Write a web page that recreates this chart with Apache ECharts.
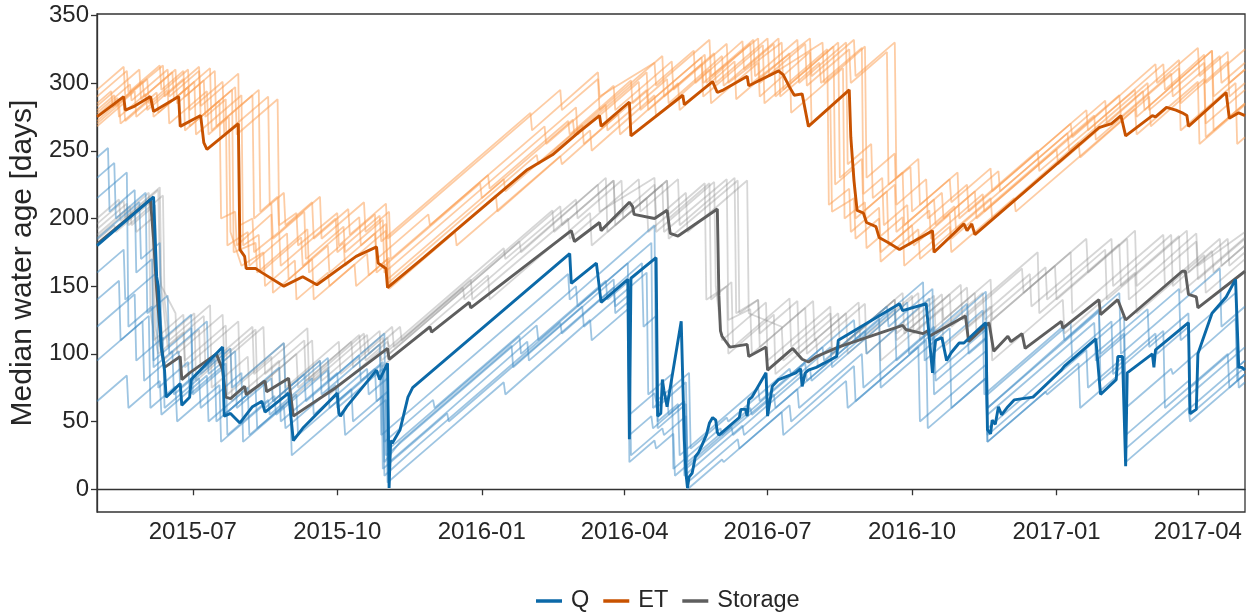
<!DOCTYPE html>
<html>
<head>
<meta charset="utf-8">
<script src="https://cdn.jsdelivr.net/npm/echarts@6/dist/echarts.min.js"></script>
<style>
html,body{margin:0;padding:0;background:#fff;}
#chart{width:1252px;height:615px;}
</style>
</head>
<body>
<div id="chart"></div>
<script>
// ---------- data ----------
const xTickLabels = ['2015-07','2015-10','2016-01','2016-04','2016-07','2016-10','2017-01','2017-04'];
const yTicks = [0,50,100,150,200,250,300,350];
const legendNames = ['Q','ET','Storage'];

const qMain = [['2015-05-01',180],['2015-06-06',216],['2015-06-08',157],['2015-06-09',150],['2015-06-11',105],['2015-06-13',88],['2015-06-14',68],['2015-06-23',78],['2015-06-24',62],['2015-06-29',68],['2015-06-30',81],['2015-07-20',105],['2015-07-21',54],['2015-07-25',56],['2015-07-31',49],['2015-08-08',61],['2015-08-14',65],['2015-08-16',57],['2015-08-31',71],['2015-09-03',36],['2015-09-09',45],['2015-10-01',71],['2015-10-02',56],['2015-10-03',54],['2015-10-07',61],['2015-10-26',88],['2015-10-28',81],['2015-11-02',93],['2015-11-03',1],['2015-11-04',36],['2015-11-05',34],['2015-11-10',44],['2015-11-15',68],['2015-11-18',75],['2016-02-26',174],['2016-02-27',152],['2016-03-14',167],['2016-03-17',138],['2016-04-03',155],['2016-04-04',37],['2016-04-05',156],['2016-04-21',171],['2016-04-22',54],['2016-04-24',56],['2016-04-25',81],['2016-04-26',73],['2016-04-28',61],['2016-05-07',124],['2016-05-08',125],['2016-05-09',36],['2016-05-10',12],['2016-05-11',1],['2016-05-12',9],['2016-05-14',12],['2016-05-16',24],['2016-05-18',27],['2016-05-20',32],['2016-05-23',40],['2016-05-25',49],['2016-05-27',53],['2016-05-29',51],['2016-05-30',42],['2016-05-31',40],['2016-06-13',53],['2016-06-14',59],['2016-06-17',59],['2016-06-18',54],['2016-06-19',66],['2016-06-21',68],['2016-06-30',86],['2016-07-01',54],['2016-07-04',76],['2016-07-08',81],['2016-07-19',86],['2016-07-22',89],['2016-07-23',76],['2016-07-25',86],['2016-07-27',88],['2016-08-01',90],['2016-08-14',98],['2016-08-15',110],['2016-09-23',137],['2016-09-25',132],['2016-10-10',137],['2016-10-14',86],['2016-10-15',100],['2016-10-16',110],['2016-10-20',112],['2016-10-23',95],['2016-10-26',101],['2016-10-31',108],['2016-11-03',108],['2016-11-14',120],['2016-11-17',123],['2016-11-18',44],['2016-11-20',41],['2016-11-21',51],['2016-11-23',48],['2016-11-25',61],['2016-11-27',55],['2016-12-01',61],['2016-12-05',66],['2016-12-17',68],['2017-01-04',88],['2017-01-06',91],['2017-01-26',111],['2017-01-29',70],['2017-02-08',81],['2017-02-09',98],['2017-02-12',98],['2017-02-14',17],['2017-02-15',86],['2017-03-03',100],['2017-03-04',90],['2017-03-05',103],['2017-03-26',123],['2017-03-27',56],['2017-03-31',59],['2017-04-01',100],['2017-04-04',110],['2017-04-07',120],['2017-04-10',130],['2017-04-19',142],['2017-04-25',155],['2017-04-27',90],['2017-04-29',90],['2017-05-01',88]];

const etMain = [['2015-05-01',275],['2015-05-18',290],['2015-05-19',280],['2015-05-25',283],['2015-06-04',290],['2015-06-06',279],['2015-06-22',290],['2015-06-23',268],['2015-07-06',276],['2015-07-08',256],['2015-07-10',251],['2015-07-30',270],['2015-07-31',177],['2015-08-03',172],['2015-08-04',163],['2015-08-10',163],['2015-08-14',160],['2015-08-28',150],['2015-09-09',157],['2015-09-18',151],['2015-10-13',172],['2015-10-26',179],['2015-10-27',167],['2015-11-01',163],['2015-11-02',149],['2015-11-25',171],['2016-01-30',236],['2016-02-15',247],['2016-03-03',264],['2016-03-16',276],['2016-03-17',268],['2016-04-04',286],['2016-04-05',261],['2016-05-08',291],['2016-05-09',284],['2016-05-27',301],['2016-05-30',293],['2016-06-03',295],['2016-06-18',305],['2016-06-19',298],['2016-07-08',309],['2016-07-11',306],['2016-07-15',297],['2016-07-18',291],['2016-07-23',292],['2016-07-25',280],['2016-07-27',268],['2016-08-22',295],['2016-08-23',260],['2016-08-25',228],['2016-08-27',206],['2016-08-31',204],['2016-09-02',197],['2016-09-08',194],['2016-09-10',186],['2016-09-16',182],['2016-09-23',177],['2016-10-14',191],['2016-10-15',175],['2016-11-03',196],['2016-11-05',191],['2016-11-08',196],['2016-11-10',188],['2017-01-28',267],['2017-02-05',270],['2017-02-11',276],['2017-02-14',261],['2017-03-03',276],['2017-03-05',275],['2017-03-12',282],['2017-03-18',280],['2017-03-22',278],['2017-03-25',276],['2017-03-26',268],['2017-04-19',293],['2017-04-21',274],['2017-04-27',278],['2017-05-01',276]];

const stMain = [['2015-05-01',181],['2015-06-04',214],['2015-06-06',185],['2015-06-08',147],['2015-06-11',105],['2015-06-13',90],['2015-06-23',98],['2015-06-24',81],['2015-06-29',86],['2015-07-16',100],['2015-07-20',88],['2015-07-22',68],['2015-07-25',67],['2015-08-03',76],['2015-08-04',70],['2015-08-16',80],['2015-08-17',72],['2015-08-31',82],['2015-09-03',54],['2015-09-30',75],['2015-11-02',104],['2015-11-03',96],['2015-11-29',120],['2015-11-30',116],['2015-12-24',138],['2015-12-25',134],['2016-02-27',191],['2016-02-29',183],['2016-03-16',197],['2016-03-17',191],['2016-04-04',212],['2016-04-06',209],['2016-04-07',203],['2016-04-20',200],['2016-04-28',206],['2016-04-30',189],['2016-05-05',187],['2016-05-30',207],['2016-05-31',143],['2016-06-01',117],['2016-06-02',113],['2016-06-07',105],['2016-06-18',107],['2016-06-19',98],['2016-06-30',105],['2016-07-01',88],['2016-07-17',104],['2016-07-23',96],['2016-07-27',94],['2016-08-01',98],['2016-08-15',105],['2016-09-25',121],['2016-09-27',118],['2016-10-08',115],['2016-10-11',117],['2016-10-12',113],['2016-11-04',128],['2016-11-06',109],['2016-11-19',123],['2016-11-22',102],['2016-12-01',113],['2016-12-03',109],['2016-12-10',115],['2016-12-12',104],['2017-01-04',124],['2017-01-05',119],['2017-01-28',140],['2017-01-29',129],['2017-02-09',140],['2017-02-14',125],['2017-03-22',161],['2017-03-24',161],['2017-03-26',144],['2017-03-31',142],['2017-04-01',134],['2017-05-01',161]];

const etMember1 = [['2015-05-01',290],['2015-05-20',309],['2015-05-21',293],['2015-06-10',313],['2015-06-11',295],['2015-06-25',309],['2015-06-26',290],['2015-07-15',309],['2015-07-16',268],['2015-08-08',291],['2015-08-09',200],['2015-08-20',211],['2015-08-21',185],['2015-09-10',205],['2015-09-11',170],['2015-10-05',194],['2015-10-06',175],['2015-10-30',199],['2015-10-31',160],['2016-03-01',282],['2016-03-02',262],['2016-04-10',301],['2016-04-11',280],['2016-05-20',319],['2016-05-21',300],['2016-06-22',332],['2016-06-23',305],['2016-07-20',332],['2016-07-21',300],['2016-08-20',330],['2016-08-21',240],['2016-09-05',255],['2016-09-06',215],['2016-09-25',234],['2016-09-26',195],['2016-10-20',219],['2016-10-21',200],['2016-11-10',220],['2016-11-11',200],['2017-02-10',291],['2017-02-11',275],['2017-03-15',307],['2017-03-16',290],['2017-04-15',320],['2017-04-16',300],['2017-05-01',315]];
const etMember2 = [['2015-05-01',270],['2015-05-25',294],['2015-05-26',275],['2015-06-15',295],['2015-06-16',270],['2015-07-10',294],['2015-07-11',262],['2015-07-24',275],['2015-07-25',190],['2015-08-01',165],['2015-08-15',175],['2015-08-16',150],['2015-09-04',169],['2015-09-05',140],['2015-09-25',160],['2015-09-26',150],['2015-10-20',174],['2015-10-21',158],['2015-11-03',171],['2015-11-04',150],['2016-01-10',217],['2016-01-11',205],['2016-03-10',265],['2016-03-11',250],['2016-04-20',291],['2016-04-21',275],['2016-05-25',310],['2016-05-26',285],['2016-06-25',315],['2016-06-26',290],['2016-07-28',323],['2016-07-29',270],['2016-08-10',282],['2016-08-11',205],['2016-08-25',215],['2016-08-26',185],['2016-09-10',200],['2016-09-11',168],['2016-10-05',192],['2016-10-06',170],['2016-11-20',215],['2016-11-21',200],['2017-01-15',256],['2017-01-16',245],['2017-03-01',290],['2017-03-02',268],['2017-04-05',303],['2017-04-06',260],['2017-05-01',285]];
const etMember3 = [['2015-05-01',280],['2015-05-12',291],['2015-05-13',283],['2015-06-02',303],['2015-06-03',285],['2015-06-28',310],['2015-06-29',280],['2015-07-20',301],['2015-07-21',262],['2015-08-18',290],['2015-08-19',210],['2015-08-28',219],['2015-08-29',195],['2015-09-15',212],['2015-09-16',185],['2015-10-08',207],['2015-10-09',188],['2015-11-01',211],['2015-11-02',185],['2016-02-20',295],['2016-02-21',280],['2016-03-15',303],['2016-03-16',280],['2016-04-25',320],['2016-04-26',290],['2016-05-28',322],['2016-05-29',300],['2016-07-01',333],['2016-07-02',305],['2016-08-05',330],['2016-08-06',300],['2016-09-01',327],['2016-09-02',230],['2016-09-20',248],['2016-09-21',210],['2016-10-10',229],['2016-10-11',200],['2016-11-05',225],['2016-11-06',205],['2017-01-20',280],['2017-01-21',265],['2017-03-10',314],['2017-03-11',295],['2017-04-05',321],['2017-04-06',300],['2017-05-01',325]];
const etMember4 = [['2015-05-01',283],['2015-05-28',310],['2015-05-29',288],['2015-06-20',310],['2015-06-21',285],['2015-07-08',302],['2015-07-09',275],['2015-07-22',288],['2015-07-23',180],['2015-08-05',190],['2015-08-06',165],['2015-08-30',189],['2015-08-31',155],['2015-09-25',180],['2015-09-26',160],['2015-10-25',189],['2015-10-26',170],['2015-11-28',203],['2015-11-29',195],['2016-02-10',268],['2016-02-11',255],['2016-03-25',298],['2016-03-26',280],['2016-05-01',316],['2016-05-02',295],['2016-06-05',329],['2016-06-06',300],['2016-07-10',330],['2016-07-11',295],['2016-08-12',327],['2016-08-13',225],['2016-08-25',237],['2016-08-26',200],['2016-09-15',220],['2016-09-16',180],['2016-10-12',206],['2016-10-13',185],['2016-11-15',218],['2016-11-16',205],['2017-01-01',251],['2017-01-02',240],['2017-02-25',294],['2017-02-26',280],['2017-04-10',324],['2017-04-11',265],['2017-05-01',285]];
const etMember5 = [['2015-05-01',272],['2015-05-15',286],['2015-05-16',270],['2015-06-08',293],['2015-06-09',278],['2015-07-02',301],['2015-07-03',262],['2015-08-01',291],['2015-08-02',180],['2015-08-12',188],['2015-08-13',160],['2015-09-08',186],['2015-09-09',165],['2015-10-15',201],['2015-10-16',180],['2015-11-01',196],['2015-11-02',155],['2016-01-15',229],['2016-01-16',220],['2016-03-05',269],['2016-03-06',255],['2016-04-15',295],['2016-04-16',280],['2016-05-20',314],['2016-05-21',290],['2016-06-28',328],['2016-06-29',285],['2016-08-08',325],['2016-08-09',210],['2016-08-22',222],['2016-08-23',190],['2016-09-10',208],['2016-09-11',175],['2016-10-01',195],['2016-10-02',180],['2016-10-25',203],['2016-10-26',185],['2017-01-25',276],['2017-01-26',258],['2017-03-20',311],['2017-03-21',265],['2017-04-25',300],['2017-04-26',255],['2017-05-01',260]];
const etMember6 = [['2015-05-01',295],['2015-05-18',312],['2015-05-19',290],['2015-06-12',313],['2015-06-13',290],['2015-07-05',312],['2015-07-06',283],['2015-07-30',307],['2015-07-31',195],['2015-08-08',200],['2015-08-09',175],['2015-08-25',190],['2015-08-26',165],['2015-09-30',200],['2015-10-01',175],['2015-10-28',202],['2015-10-29',183],['2016-02-01',278],['2016-02-02',265],['2016-03-15',308],['2016-03-16',290],['2016-04-20',315],['2016-04-21',298],['2016-05-25',332],['2016-05-26',305],['2016-06-25',333],['2016-06-26',300],['2016-07-25',329],['2016-07-26',298],['2016-08-22',325],['2016-08-23',300],['2016-09-15',323],['2016-09-16',225],['2016-09-30',238],['2016-10-01',205],['2016-10-25',229],['2016-10-26',212],['2016-11-20',237],['2016-11-21',220],['2017-01-10',270],['2017-01-11',260],['2017-03-05',314],['2017-03-06',300],['2017-04-01',326],['2017-04-02',305],['2017-04-20',323],['2017-04-21',300],['2017-05-01',310]];
const etMember7 = [['2015-05-01',285],['2015-05-10',294],['2015-05-11',282],['2015-05-30',301],['2015-05-31',290],['2015-06-18',308],['2015-06-19',288],['2015-07-12',311],['2015-07-13',265],['2015-08-12',295],['2015-08-13',205],['2015-08-24',216],['2015-08-25',190],['2015-09-20',216],['2015-09-21',185],['2015-10-18',212],['2015-10-19',190],['2015-11-03',205],['2015-11-04',170],['2016-01-05',232],['2016-01-06',222],['2016-02-25',272],['2016-02-26',262],['2016-04-05',302],['2016-04-06',285],['2016-05-15',324],['2016-05-16',300],['2016-06-15',331],['2016-06-16',310],['2016-07-05',329],['2016-07-06',290],['2016-08-15',330],['2016-08-16',230],['2016-08-30',244],['2016-08-31',205],['2016-09-20',225],['2016-09-21',190],['2016-10-15',214],['2016-10-16',195],['2016-11-25',235],['2016-11-26',220],['2017-02-01',287],['2017-02-02',270],['2017-03-20',317],['2017-03-21',285],['2017-04-20',316],['2017-04-21',290],['2017-05-01',300]];
const etMember8 = [['2015-05-01',268],['2015-05-18',285],['2015-05-19',272],['2015-06-05',289],['2015-06-06',275],['2015-06-28',297],['2015-06-29',268],['2015-07-18',287],['2015-07-19',200],['2015-07-28',205],['2015-07-29',180],['2015-08-20',203],['2015-08-21',145],['2015-09-15',170],['2015-09-16',140],['2015-10-12',166],['2015-10-13',150],['2015-11-02',170],['2015-11-03',148],['2015-12-15',190],['2015-12-16',180],['2016-02-20',246],['2016-02-21',240],['2016-03-28',277],['2016-03-29',262],['2016-05-05',300],['2016-05-06',280],['2016-06-10',316],['2016-06-11',288],['2016-07-15',322],['2016-07-16',278],['2016-08-18',311],['2016-08-19',200],['2016-09-01',212],['2016-09-02',178],['2016-09-25',201],['2016-09-26',165],['2016-10-25',194],['2016-10-26',175],['2016-12-05',215],['2016-12-06',205],['2017-02-20',281],['2017-02-21',262],['2017-04-01',301],['2017-04-02',255],['2017-05-01',284]];
const etMember9 = [['2015-05-01',278],['2015-05-22',299],['2015-05-23',287],['2015-06-15',310],['2015-06-16',290],['2015-07-05',309],['2015-07-06',275],['2015-07-28',297],['2015-07-29',262],['2015-08-24',288],['2015-08-25',195],['2015-09-05',204],['2015-09-06',180],['2015-10-01',204],['2015-10-02',180],['2015-10-25',203],['2015-10-26',160],['2015-12-31',226],['2016-01-01',215],['2016-02-28',273],['2016-02-29',262],['2016-04-15',308],['2016-04-16',285],['2016-05-22',321],['2016-05-23',300],['2016-06-20',329],['2016-06-21',300],['2016-07-28',333],['2016-07-29',305],['2016-08-25',332],['2016-08-26',305],['2016-09-20',330],['2016-09-21',230],['2016-10-05',244],['2016-10-06',210],['2016-10-30',234],['2016-10-31',200],['2016-12-20',250],['2016-12-21',235],['2017-02-20',295],['2017-02-21',275],['2017-04-10',324],['2017-04-11',290],['2017-05-01',310]];
const etMember10 = [['2015-05-01',276],['2015-05-14',289],['2015-05-15',275],['2015-06-01',292],['2015-06-02',280],['2015-06-25',303],['2015-06-26',265],['2015-07-26',295],['2015-07-27',175],['2015-08-10',182],['2015-08-11',160],['2015-09-12',192],['2015-09-13',160],['2015-10-05',182],['2015-10-06',165],['2015-11-01',191],['2015-11-02',152],['2016-02-05',247],['2016-02-06',240],['2016-03-20',284],['2016-03-21',265],['2016-04-28',303],['2016-04-29',285],['2016-06-02',320],['2016-06-03',298],['2016-07-08',333],['2016-07-09',290],['2016-08-03',315],['2016-08-04',300],['2016-08-30',326],['2016-08-31',218],['2016-09-12',230],['2016-09-13',195],['2016-09-28',210],['2016-09-29',180],['2016-10-28',209],['2016-10-29',192],['2017-01-08',263],['2017-01-09',250],['2017-02-28',300],['2017-03-01',280],['2017-04-05',315],['2017-04-06',270],['2017-05-01',295]];

const qMember1 = [['2015-05-01',215],['2015-05-20',234],['2015-05-21',120],['2015-06-05',135],['2015-06-06',90],['2015-06-18',102],['2015-06-19',70],['2015-07-15',96],['2015-07-16',50],['2015-08-10',75],['2015-08-11',45],['2015-09-05',70],['2015-09-06',40],['2015-10-10',74],['2015-10-11',50],['2015-10-30',69],['2015-10-31',20],['2015-11-10',35],['2016-01-20',106],['2016-01-21',90],['2016-03-25',155],['2016-03-26',130],['2016-04-03',138],['2016-04-04',40],['2016-04-18',54],['2016-04-19',45],['2016-05-08',64],['2016-05-09',10],['2016-06-15',47],['2016-06-16',40],['2016-07-20',74],['2016-07-21',60],['2016-08-30',100],['2016-08-31',75],['2016-10-15',120],['2016-10-16',80],['2016-11-17',112],['2016-11-18',40],['2017-01-20',103],['2017-01-21',75],['2017-02-13',98],['2017-02-14',30],['2017-03-26',70],['2017-03-27',55],['2017-05-01',90]];
const qMember2 = [['2015-05-01',230],['2015-05-12',241],['2015-05-13',200],['2015-06-01',219],['2015-06-02',130],['2015-06-15',143],['2015-06-16',100],['2015-07-10',124],['2015-07-11',85],['2015-07-28',102],['2015-07-29',60],['2015-08-20',82],['2015-08-21',65],['2015-09-20',95],['2015-09-21',70],['2015-10-28',107],['2015-10-29',40],['2015-11-15',57],['2016-02-25',159],['2016-02-26',140],['2016-04-20',195],['2016-04-21',60],['2016-05-10',79],['2016-05-11',20],['2016-06-20',60],['2016-06-21',55],['2016-08-10',105],['2016-08-11',90],['2016-09-28',138],['2016-09-29',100],['2016-11-05',137],['2016-11-06',100],['2016-11-17',111],['2016-11-18',55],['2017-01-25',123],['2017-01-26',95],['2017-03-20',148],['2017-03-21',110],['2017-04-25',145],['2017-04-26',80],['2017-05-01',85]];
const qMember3 = [['2015-05-01',185],['2015-05-28',212],['2015-05-29',170],['2015-06-10',182],['2015-06-11',110],['2015-06-30',129],['2015-07-01',80],['2015-07-25',104],['2015-07-26',75],['2015-08-28',108],['2015-08-29',70],['2015-09-25',97],['2015-09-26',80],['2015-10-31',115],['2015-11-01',25],['2015-11-20',44],['2016-02-05',121],['2016-02-06',110],['2016-04-03',167],['2016-04-04',55],['2016-04-20',71],['2016-04-21',65],['2016-05-12',86],['2016-05-13',30],['2016-06-05',53],['2016-06-06',50],['2016-07-15',89],['2016-07-16',85],['2016-08-25',125],['2016-08-26',110],['2016-10-08',153],['2016-10-09',95],['2016-11-15',132],['2016-11-16',70],['2017-01-05',120],['2017-01-06',110],['2017-02-10',145],['2017-02-11',100],['2017-04-15',163],['2017-04-16',120],['2017-05-01',135]];
const qMember4 = [['2015-05-01',65],['2015-05-20',84],['2015-05-21',60],['2015-06-10',80],['2015-06-11',55],['2015-07-10',84],['2015-07-11',50],['2015-08-05',75],['2015-08-06',40],['2015-09-01',66],['2015-09-02',25],['2015-10-05',58],['2015-10-06',40],['2015-11-01',66],['2015-11-02',5],['2015-11-25',28],['2016-01-15',79],['2016-01-16',70],['2016-03-10',125],['2016-03-11',110],['2016-04-04',134],['2016-04-05',25],['2016-04-25',45],['2016-04-26',40],['2016-05-10',54],['2016-05-11',5],['2016-06-12',37],['2016-06-13',30],['2016-07-10',57],['2016-07-11',40],['2016-08-20',80],['2016-08-21',60],['2016-10-10',110],['2016-10-11',45],['2016-11-17',82],['2016-11-18',35],['2017-01-15',93],['2017-01-16',60],['2017-02-13',88],['2017-02-14',20],['2017-03-26',60],['2017-03-27',50],['2017-05-01',85]];
const qMember5 = [['2015-05-01',95],['2015-05-30',124],['2015-05-31',80],['2015-06-22',102],['2015-06-23',75],['2015-07-20',102],['2015-07-21',55],['2015-08-25',90],['2015-08-26',50],['2015-10-01',86],['2015-10-02',65],['2015-10-29',92],['2015-10-30',15],['2015-11-20',36],['2015-12-10',56],['2015-12-11',50],['2016-03-05',135],['2016-03-06',120],['2016-04-15',160],['2016-04-16',70],['2016-05-01',85],['2016-05-02',15],['2016-06-01',45],['2016-06-02',40],['2016-07-25',93],['2016-07-26',80],['2016-09-10',126],['2016-09-11',75],['2016-10-25',119],['2016-10-26',60],['2016-11-17',82],['2016-11-18',45],['2017-02-05',124],['2017-02-06',85],['2017-03-10',117],['2017-03-11',60],['2017-04-20',100],['2017-04-21',75],['2017-05-01',85]];
const qMember6 = [['2015-05-01',160],['2015-05-18',177],['2015-05-19',140],['2015-06-08',160],['2015-06-09',75],['2015-06-28',94],['2015-06-29',70],['2015-07-22',93],['2015-07-23',40],['2015-08-18',66],['2015-08-19',55],['2015-09-15',82],['2015-09-16',55],['2015-10-20',89],['2015-10-21',70],['2015-11-02',82],['2015-11-03',30],['2016-01-25',113],['2016-01-26',100],['2016-03-20',154],['2016-03-21',140],['2016-04-21',171],['2016-04-22',50],['2016-05-05',63],['2016-05-06',25],['2016-06-25',75],['2016-06-26',65],['2016-08-05',105],['2016-08-06',95],['2016-09-15',135],['2016-09-16',120],['2016-10-14',148],['2016-10-15',85],['2016-11-17',118],['2016-11-18',60],['2017-01-28',131],['2017-01-29',80],['2017-03-05',115],['2017-03-06',100],['2017-03-26',120],['2017-03-27',70],['2017-05-01',105]];
const qMember7 = [['2015-05-01',120],['2015-05-25',144],['2015-05-26',95],['2015-06-12',112],['2015-06-13',60],['2015-07-05',82],['2015-07-06',60],['2015-08-01',86],['2015-08-02',35],['2015-08-28',61],['2015-08-29',45],['2015-09-30',77],['2015-10-01',60],['2015-10-30',89],['2015-10-31',10],['2015-11-22',33],['2016-02-20',123],['2016-02-21',115],['2016-04-12',167],['2016-04-13',120],['2016-04-21',128],['2016-04-22',45],['2016-05-10',63],['2016-05-11',0],['2016-06-02',22],['2016-06-03',20],['2016-07-15',62],['2016-07-16',50],['2016-08-25',91],['2016-08-26',65],['2016-10-05',105],['2016-10-06',50],['2016-11-17',92],['2016-11-18',35],['2016-12-25',72],['2016-12-26',70],['2017-02-28',133],['2017-03-01',105],['2017-03-26',130],['2017-03-27',60],['2017-05-01',95]];
const qMember8 = [['2015-05-01',245],['2015-05-08',252],['2015-05-09',205],['2015-05-25',221],['2015-05-26',160],['2015-06-05',170],['2015-06-06',95],['2015-06-30',119],['2015-07-01',70],['2015-07-20',89],['2015-07-21',55],['2015-08-15',80],['2015-08-16',60],['2015-09-10',85],['2015-09-11',65],['2015-10-15',99],['2015-10-16',80],['2015-10-30',94],['2015-10-31',35],['2015-12-01',66],['2015-12-02',60],['2016-03-01',150],['2016-03-02',135],['2016-04-18',182],['2016-04-19',60],['2016-04-28',69],['2016-04-29',55],['2016-05-09',65],['2016-05-10',15],['2016-06-10',46],['2016-06-11',45],['2016-07-05',70],['2016-07-06',60],['2016-09-01',117],['2016-09-02',100],['2016-10-12',141],['2016-10-13',110],['2016-11-17',146],['2016-11-18',70],['2017-01-10',123],['2017-01-11',95],['2017-02-13',128],['2017-02-14',60],['2017-03-15',89],['2017-03-16',85],['2017-04-25',126],['2017-04-26',90],['2017-05-01',95]];
const qMember9 = [['2015-05-01',140],['2015-05-15',154],['2015-05-16',110],['2015-06-03',128],['2015-06-04',60],['2015-06-20',76],['2015-06-21',50],['2015-07-18',77],['2015-07-19',35],['2015-08-22',69],['2015-08-23',55],['2015-09-25',88],['2015-09-26',60],['2015-10-25',89],['2015-10-26',65],['2015-11-02',72],['2015-11-03',20],['2015-11-28',45],['2016-01-30',109],['2016-01-31',95],['2016-03-25',149],['2016-03-26',135],['2016-04-03',143],['2016-04-04',20],['2016-04-20',36],['2016-04-21',30],['2016-05-02',41],['2016-05-03',10],['2016-06-08',46],['2016-06-09',40],['2016-07-28',89],['2016-07-29',80],['2016-09-20',133],['2016-09-21',95],['2016-10-14',118],['2016-10-15',70],['2016-11-17',102],['2016-11-18',60],['2017-01-28',133],['2017-01-29',100],['2017-02-13',115],['2017-02-14',40],['2017-03-26',80],['2017-03-27',75],['2017-04-26',105],['2017-04-27',75],['2017-05-01',79]];

const stMember1 = [['2015-05-01',200],['2015-05-15',214],['2015-05-16',198],['2015-06-10',223],['2015-06-11',150],['2015-06-20',130],['2015-06-21',100],['2015-07-20',129],['2015-07-21',95],['2015-08-15',120],['2015-08-16',85],['2015-09-10',110],['2015-09-11',80],['2015-10-15',114],['2015-10-16',100],['2015-11-05',120],['2015-11-06',105],['2015-12-20',149],['2015-12-21',140],['2016-03-15',225],['2016-03-16',205],['2016-04-20',230],['2016-04-21',200],['2016-05-10',219],['2016-05-11',190],['2016-06-18',228],['2016-06-19',130],['2016-07-10',120],['2016-07-11',95],['2016-08-15',130],['2016-08-16',105],['2016-09-20',140],['2016-09-21',115],['2016-10-20',144],['2016-10-21',125],['2016-11-20',155],['2016-11-21',125],['2017-01-10',175],['2017-01-11',130],['2017-03-10',188],['2017-03-11',150],['2017-04-15',185],['2017-04-16',165],['2017-05-01',180]];
const stMember2 = [['2015-05-01',180],['2015-05-25',204],['2015-05-26',190],['2015-06-06',201],['2015-06-07',120],['2015-06-12',95],['2015-07-05',118],['2015-07-06',85],['2015-07-25',104],['2015-07-26',65],['2015-08-25',95],['2015-08-26',60],['2015-09-25',90],['2015-09-26',70],['2015-10-28',102],['2015-10-29',90],['2016-01-05',158],['2016-01-06',140],['2016-03-10',204],['2016-03-11',180],['2016-04-15',215],['2016-04-16',190],['2016-05-22',226],['2016-05-23',140],['2016-06-05',150],['2016-06-06',100],['2016-07-05',129],['2016-07-06',85],['2016-08-01',111],['2016-08-02',90],['2016-09-10',129],['2016-09-11',95],['2016-10-20',134],['2016-10-21',105],['2016-11-20',135],['2016-11-21',95],['2017-01-05',140],['2017-01-06',115],['2017-02-20',160],['2017-02-21',130],['2017-04-05',173],['2017-04-06',145],['2017-05-01',170]];
const stMember3 = [['2015-05-01',192],['2015-05-20',211],['2015-05-21',195],['2015-06-12',217],['2015-06-13',140],['2015-06-16',110],['2015-07-12',136],['2015-07-13',75],['2015-08-05',98],['2015-08-06',70],['2015-09-05',100],['2015-09-06',75],['2015-10-10',109],['2015-10-11',90],['2015-11-10',120],['2015-11-11',110],['2016-02-15',206],['2016-02-16',190],['2016-03-25',228],['2016-03-26',195],['2016-04-25',225],['2016-04-26',190],['2016-06-05',229],['2016-06-06',125],['2016-06-20',133],['2016-06-21',100],['2016-07-25',134],['2016-07-26',100],['2016-09-01',137],['2016-09-02',100],['2016-10-15',143],['2016-10-16',115],['2016-11-15',145],['2016-11-16',125],['2016-12-25',164],['2016-12-26',140],['2017-02-01',177],['2017-02-02',140],['2017-03-25',191],['2017-03-26',160],['2017-04-20',185],['2017-04-21',165],['2017-05-01',175]];
const stMember4 = [['2015-05-01',186],['2015-06-03',219],['2015-06-04',130],['2015-06-09',100],['2015-06-25',116],['2015-06-26',90],['2015-07-30',124],['2015-07-31',80],['2015-08-28',108],['2015-08-29',75],['2015-10-02',109],['2015-10-03',85],['2015-10-30',112],['2015-10-31',100],['2015-12-25',155],['2015-12-26',140],['2016-02-25',200],['2016-02-26',185],['2016-04-10',229],['2016-04-11',205],['2016-05-05',229],['2016-05-06',195],['2016-06-10',230],['2016-06-11',130],['2016-06-25',140],['2016-06-26',105],['2016-07-30',139],['2016-07-31',110],['2016-08-20',130],['2016-08-21',100],['2016-10-05',145],['2016-10-06',110],['2016-11-10',145],['2016-11-11',115],['2016-12-31',165],['2017-01-01',140],['2017-02-15',185],['2017-02-16',140],['2017-03-31',183],['2017-04-01',155],['2017-05-01',185]];
const stMember5 = [['2015-05-01',188],['2015-05-22',209],['2015-05-23',195],['2015-06-07',210],['2015-06-08',150],['2015-06-12',110],['2015-07-02',130],['2015-07-03',80],['2015-08-10',118],['2015-08-11',75],['2015-09-15',110],['2015-09-16',80],['2015-10-20',114],['2015-10-21',100],['2015-11-02',112],['2015-11-03',100],['2016-02-20',209],['2016-02-21',195],['2016-03-25',228],['2016-03-26',200],['2016-04-20',225],['2016-04-21',190],['2016-05-28',227],['2016-05-29',150],['2016-06-02',110],['2016-06-30',138],['2016-07-01',95],['2016-08-10',135],['2016-08-11',100],['2016-09-20',140],['2016-09-21',110],['2016-10-25',144],['2016-10-26',120],['2016-12-20',175],['2016-12-21',130],['2017-02-10',181],['2017-02-11',150],['2017-03-20',187],['2017-03-21',145],['2017-05-01',186]];
const stMember6 = [['2015-05-01',196],['2015-05-18',213],['2015-05-19',200],['2015-06-09',221],['2015-06-10',160],['2015-06-15',105],['2015-07-08',128],['2015-07-09',90],['2015-08-08',120],['2015-08-09',85],['2015-09-12',119],['2015-09-13',80],['2015-10-18',115],['2015-10-19',95],['2015-11-02',109],['2015-11-03',105],['2016-01-15',178],['2016-01-16',170],['2016-03-01',214],['2016-03-02',200],['2016-03-30',228],['2016-03-31',200],['2016-04-28',228],['2016-04-29',185],['2016-06-12',228],['2016-06-13',130],['2016-06-25',140],['2016-06-26',115],['2016-07-20',139],['2016-07-21',100],['2016-08-28',138],['2016-08-29',110],['2016-10-01',143],['2016-10-02',115],['2016-11-05',149],['2016-11-06',120],['2016-12-15',159],['2016-12-16',135],['2017-02-05',185],['2017-02-06',150],['2017-03-15',188],['2017-03-16',150],['2017-04-10',176],['2017-04-11',160],['2017-05-01',180]];
const stMember7 = [['2015-05-01',184],['2015-05-12',195],['2015-05-13',190],['2015-06-05',213],['2015-06-06',110],['2015-06-25',129],['2015-06-26',95],['2015-07-22',121],['2015-07-23',70],['2015-08-20',98],['2015-08-21',65],['2015-09-20',95],['2015-09-21',80],['2015-10-28',117],['2015-10-29',95],['2016-01-25',183],['2016-01-26',175],['2016-03-20',230],['2016-03-21',190],['2016-04-28',228],['2016-04-29',200],['2016-05-25',226],['2016-05-26',140],['2016-06-08',153],['2016-06-09',105],['2016-07-15',141],['2016-07-16',105],['2016-08-10',130],['2016-08-11',100],['2016-09-25',145],['2016-09-26',115],['2016-11-01',151],['2016-11-02',125],['2016-12-10',163],['2016-12-11',145],['2017-01-20',185],['2017-01-21',160],['2017-02-20',191],['2017-02-21',150],['2017-03-31',189],['2017-04-01',165],['2017-05-01',190]];

// ---------- chart ----------
const FONT = "'Liberation Sans', Arial, Helvetica, sans-serif";
const colors = { Q: '#0b69a8', ET: '#c85200', Storage: '#5e5e5e' };
const lightColors = { Q: '#3d8bc6', ET: '#fb9d50', Storage: '#8a8a8a' };

function toTime(s) {
  const p = s.split('-');
  return new Date(+p[0], +p[1] - 1, p[2] ? +p[2] : 1).getTime();
}
const xTickValues = xTickLabels.map(toTime);
const asPoints = d => d.map(p => [toTime(p[0]), p[1]]);

function member(name, data, key, opacity) {
  return {
    type: 'line', name: name, data: asPoints(data), showSymbol: false, symbol: 'none',
    silent: true, animation: false, color: lightColors[key],
    lineStyle: { color: lightColors[key], width: 1.8, opacity: opacity }
  };
}
function mainLine(name, data) {
  return {
    type: 'line', name: name, data: asPoints(data), showSymbol: false, symbol: 'none',
    silent: true, animation: false, color: colors[name],
    lineStyle: { color: colors[name], width: 2.9 }
  };
}

const series = [];
[stMember1, stMember2, stMember3, stMember4, stMember5, stMember6, stMember7].forEach((d, i) => series.push(member('Storage member ' + (i + 1), d, 'Storage', 0.35)));
[qMember1, qMember2, qMember3, qMember4, qMember5, qMember6, qMember7, qMember8, qMember9].forEach((d, i) => series.push(member('Q member ' + (i + 1), d, 'Q', 0.5)));
[etMember1, etMember2, etMember3, etMember4, etMember5, etMember6, etMember7, etMember8, etMember9, etMember10].forEach((d, i) => series.push(member('ET member ' + (i + 1), d, 'ET', 0.52)));
series.push(mainLine('Storage', stMain));
series.push(mainLine('ET', etMain));
series.push(mainLine('Q', qMain));

const chart = echarts.init(document.getElementById('chart'), null, { renderer: 'canvas' });
chart.setOption({
  animation: false,
  backgroundColor: '#ffffff',
  textStyle: { fontFamily: FONT },
  grid: { left: 97, right: 7, top: 14, bottom: 103, show: true, borderColor: '#333333', borderWidth: 1.3, backgroundColor: 'transparent' },
  legend: {
    data: legendNames, left: 536, top: 589, padding: 0, itemGap: 14,
    icon: 'rect', itemWidth: 26, itemHeight: 3.5,
    textStyle: { fontSize: 23.5, color: '#262626', fontFamily: FONT, padding: [0, 0, 0, 4] }
  },
  xAxis: {
    type: 'value',
    min: toTime('2015-05-01'),
    max: toTime('2017-05-01'),
    axisLine: { show: true, lineStyle: { color: '#333333', width: 1.3 } },
    axisTick: { show: true, length: 6, lineStyle: { color: '#333333', width: 1.3 }, customValues: xTickValues },
    axisLabel: {
      customValues: xTickValues, fontSize: 24, color: '#262626', margin: 8, fontFamily: FONT,
      formatter: function (v) {
        const i = xTickValues.indexOf(v);
        return i >= 0 ? xTickLabels[i] : '';
      }
    },
    splitLine: { show: false }
  },
  yAxis: {
    type: 'value', min: -16.8, max: 351,
    name: 'Median water age [days]', nameLocation: 'middle', nameGap: 57,
    nameTextStyle: { fontSize: 30, color: '#262626', fontFamily: FONT },
    axisLine: { show: true, lineStyle: { color: '#333333', width: 1.3 } },
    axisTick: { show: true, length: 6, lineStyle: { color: '#333333', width: 1.3 }, customValues: yTicks },
    axisLabel: { customValues: yTicks, fontSize: 24, color: '#262626', margin: 8, fontFamily: FONT },
    splitLine: { show: false }
  },
  series: series
});
</script>
</body>
</html>
